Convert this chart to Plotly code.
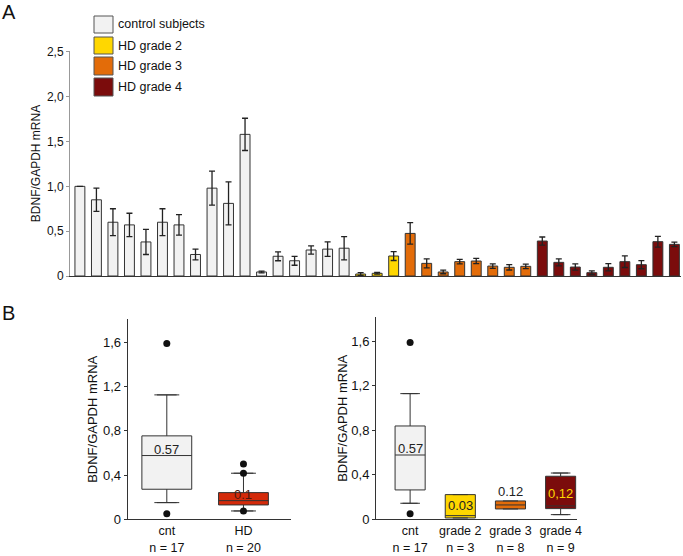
import plotly.graph_objects as go

# ---- panel A: per-subject BDNF/GAPDH mRNA (mean +/- error) ----
control_means = [1.00, 0.85, 0.60, 0.57, 0.38, 0.60, 0.57, 0.24, 0.98, 0.81, 1.58,
                 0.045, 0.22, 0.17, 0.29, 0.30, 0.31]
control_err = [0.0, 0.13, 0.15, 0.13, 0.14, 0.15, 0.115, 0.06, 0.19, 0.24, 0.18,
               0.01, 0.05, 0.05, 0.045, 0.08, 0.13]
grade2_means = [0.022, 0.03, 0.223]
grade2_err = [0.015, 0.01, 0.05]
grade3_means = [0.475, 0.141, 0.045, 0.16, 0.167, 0.111, 0.097, 0.108]
grade3_err = [0.12, 0.05, 0.02, 0.025, 0.03, 0.025, 0.03, 0.025]
grade4_means = [0.39, 0.152, 0.10, 0.037, 0.097, 0.16, 0.126, 0.383, 0.353]
grade4_err = [0.045, 0.04, 0.035, 0.02, 0.04, 0.065, 0.045, 0.06, 0.025]

group_names = ["control subjects", "HD grade 2", "HD grade 3", "HD grade 4"]
top_ticks = [0, 0.5, 1.0, 1.5, 2.0, 2.5]
top_ticktext = ["0", "0,5", "1,0", "1,5", "2,0", "2,5"]

# ---- panel B left: cnt vs HD ----
left_cats = ["cnt<br>n = 17", "HD<br>n = 20"]
left_q1 = [0.272, 0.13]
left_med = [0.577, 0.169]
left_q3 = [0.755, 0.2415]
left_lo = [0.151, 0.0755]
left_hi = [1.126, 0.417]
left_labels = ["0.57", "0.1"]
left_out_x = ["cnt<br>n = 17", "cnt<br>n = 17", "HD<br>n = 20", "HD<br>n = 20", "HD<br>n = 20"]
left_out_y = [1.59, 0.05, 0.50, 0.417, 0.0755]

# ---- panel B right: cnt vs HD grades ----
right_cats = ["cnt<br>n = 17", "grade 2<br>n = 3", "grade 3<br>n = 8", "grade 4<br>n = 9"]
right_q1 = [0.264, 0.012, 0.093, 0.096]
right_med = [0.578, 0.033, 0.129, 0.12]
right_q3 = [0.839, 0.222, 0.165, 0.387]
right_lo = [0.144, 0.012, 0.093, 0.042]
right_hi = [1.13, 0.222, 0.165, 0.416]
right_labels = ["0.57", "0.03", "0.12", "0,12"]
right_out_x = ["cnt<br>n = 17", "cnt<br>n = 17"]
right_out_y = [1.59, 0.051]

bottom_ticks = [0, 0.4, 0.8, 1.2, 1.6]
bottom_ticktext = ["0", "0,4", "0,8", "1,2", "1,6"]

FONT = "Arial, Liberation Sans, sans-serif"
CONTROL = "#F2F2F2"
YELLOW = "#FFD700"
ORANGE = "#E36C09"
DARKRED = "#7B0C0C"
HDRED = "#D42A0A"
EDGE = "#333333"

W, H = 683, 556


def px_x(p):
    return p / W


def px_y(p):
    return 1 - p / H


fig = go.Figure()

# bars of panel A, one trace per group so colours follow the group
groups = [
    (control_means, control_err, CONTROL),
    (grade2_means, grade2_err, YELLOW),
    (grade3_means, grade3_err, ORANGE),
    (grade4_means, grade4_err, DARKRED),
]
start = 0
for name, (means, errs, color) in zip(group_names, groups):
    xs = list(range(start, start + len(means)))
    start += len(means)
    fig.add_trace(
        go.Bar(
            x=xs,
            y=means,
            name=name,
            width=0.6,
            marker=dict(color=color, line=dict(color=EDGE, width=1)),
            error_y=dict(type="data", array=errs, color="#222222", thickness=1.3, width=3),
            xaxis="x",
            yaxis="y",
            showlegend=False,
        )
    )


def add_boxes(cats, q1, med, q3, lo, hi, fills, xa, ya, width):
    for i, cat in enumerate(cats):
        fig.add_trace(
            go.Box(
                x=[cat],
                q1=[q1[i]],
                median=[med[i]],
                q3=[q3[i]],
                lowerfence=[lo[i]],
                upperfence=[hi[i]],
                fillcolor=fills[i],
                line=dict(color=EDGE, width=1),
                width=width,
                boxpoints=False,
                xaxis=xa,
                yaxis=ya,
                showlegend=False,
                hoverinfo="skip",
            )
        )
        # whisker caps
        caps = [v for v, edge in ((lo[i], q1[i]), (hi[i], q3[i])) if v != edge]
        if caps:
            fig.add_trace(
                go.Scatter(
                    x=[cat] * len(caps),
                    y=caps,
                    mode="markers",
                    marker=dict(symbol="line-ew", size=14, line=dict(color=EDGE, width=1)),
                    xaxis=xa,
                    yaxis=ya,
                    showlegend=False,
                    hoverinfo="skip",
                )
            )


add_boxes(left_cats, left_q1, left_med, left_q3, left_lo, left_hi,
          [CONTROL, HDRED], "x2", "y2", 0.65)
add_boxes(right_cats, right_q1, right_med, right_q3, right_lo, right_hi,
          [CONTROL, YELLOW, ORANGE, DARKRED], "x3", "y3", 0.6)

for xs, ys, xa, ya in ((left_out_x, left_out_y, "x2", "y2"), (right_out_x, right_out_y, "x3", "y3")):
    fig.add_trace(
        go.Scatter(
            x=xs,
            y=ys,
            mode="markers",
            marker=dict(color="#111111", size=7),
            xaxis=xa,
            yaxis=ya,
            showlegend=False,
            hoverinfo="skip",
        )
    )

annotations = []
shapes = []

# median labels
label_colors_left = ["#222222", "#4a1a10"]
label_colors_right = ["#222222", "#222222", "#222222", YELLOW]
label_shift_left = [0, 0]
label_shift_right = [0, 4, 3, 6]
for cats, meds, q3s, labels, colors, shifts, xa, ya in (
    (left_cats, left_med, left_q3, left_labels, label_colors_left, label_shift_left, "x2", "y2"),
    (right_cats, right_med, right_q3, right_labels, label_colors_right, label_shift_right, "x3", "y3"),
):
    for i, cat in enumerate(cats):
        base = q3s[i] if labels[i] == "0.12" else meds[i]
        annotations.append(
            dict(
                x=cat, y=base, xref=xa, yref=ya, text=labels[i], showarrow=False,
                yanchor="bottom", yshift=shifts[i] - 3,
                font=dict(size=13, color=colors[i], family=FONT),
            )
        )

# custom legend for panel A
legend_colors = [CONTROL, YELLOW, ORANGE, DARKRED]
legend_rows = [(16, 33), (37, 54), (57, 75), (78, 96)]
for name, color, (t, b) in zip(group_names, legend_colors, legend_rows):
    shapes.append(
        dict(type="rect", xref="paper", yref="paper",
             x0=px_x(94), x1=px_x(113), y0=px_y(b), y1=px_y(t),
             fillcolor=color, line=dict(color="#555555", width=1))
    )
    annotations.append(
        dict(x=px_x(116), y=px_y((t + b) / 2), xref="paper", yref="paper",
             text=name, showarrow=False, xanchor="left", yanchor="middle",
             font=dict(size=12.5, color="#111111", family=FONT))
    )

# panel letters
for letter, top in (("A", -1), ("B", 300)):
    annotations.append(
        dict(x=0, y=px_y(top), xref="paper", yref="paper", text=letter,
             showarrow=False, xanchor="left", yanchor="top",
             font=dict(size=20, color="#111111", family=FONT))
    )

ytitle = "BDNF/GAPDH mRNA"

fig.update_layout(
    width=W,
    height=H,
    margin=dict(l=0, r=0, t=0, b=0),
    paper_bgcolor="white",
    plot_bgcolor="white",
    font=dict(family=FONT, color="#111111"),
    boxmode="overlay",
    bargap=0.4,
    shapes=shapes,
    annotations=annotations,
    xaxis=dict(
        domain=[px_x(70), px_x(681)], range=[-0.6, 36.4], anchor="y", automargin=False,
        showline=True, linecolor=EDGE, linewidth=1, showticklabels=False,
        ticks="", showgrid=False, zeroline=False,
    ),
    yaxis=dict(
        domain=[px_y(276), px_y(51)], range=[0, 2.51], anchor="x", automargin=False,
        showline=True, linecolor="#999999", linewidth=1, ticks="outside",
        ticklen=3, tickcolor="#999999", tickvals=top_ticks, ticktext=top_ticktext,
        tickfont=dict(size=12, family=FONT), showgrid=False, zeroline=False,
        title=dict(text=ytitle, font=dict(size=12, family=FONT), standoff=3),
    ),
    xaxis2=dict(
        domain=[px_x(127.7), px_x(291)], range=[-0.51, 1.62], anchor="y2", automargin=False,
        type="category", categoryorder="array", categoryarray=left_cats,
        showline=True, linecolor=EDGE, linewidth=1, ticks="", showgrid=False,
        zeroline=False, tickfont=dict(size=12.5, family=FONT),
    ),
    yaxis2=dict(
        domain=[px_y(519.3), px_y(319.3)], range=[0, 1.81], anchor="x2", automargin=False,
        showline=True, linecolor=EDGE, linewidth=1, ticks="outside", ticklen=3,
        tickcolor=EDGE, tickvals=bottom_ticks, ticktext=bottom_ticktext,
        tickfont=dict(size=13, family=FONT), showgrid=False, zeroline=False,
        title=dict(text=ytitle, font=dict(size=13, family=FONT), standoff=2),
    ),
    xaxis3=dict(
        domain=[px_x(376), px_x(576.7)], range=[-0.68, 3.32], anchor="y3", automargin=False,
        type="category", categoryorder="array", categoryarray=right_cats,
        showline=True, linecolor=EDGE, linewidth=1, ticks="", showgrid=False,
        zeroline=False, tickfont=dict(size=12.5, family=FONT),
    ),
    yaxis3=dict(
        domain=[px_y(519.3), px_y(317.3)], range=[0, 1.816], anchor="x3", automargin=False,
        showline=True, linecolor=EDGE, linewidth=1, ticks="outside", ticklen=3,
        tickcolor=EDGE, tickvals=bottom_ticks, ticktext=bottom_ticktext,
        tickfont=dict(size=13, family=FONT), showgrid=False, zeroline=False,
        title=dict(text=ytitle, font=dict(size=13, family=FONT), standoff=0),
    ),
)

# the page's default body margin would push the 683x556 figure off the window
fig.write_html(
    "out.html",
    config={"displayModeBar": False},
    post_script="document.body.style.margin = '0';",
)
